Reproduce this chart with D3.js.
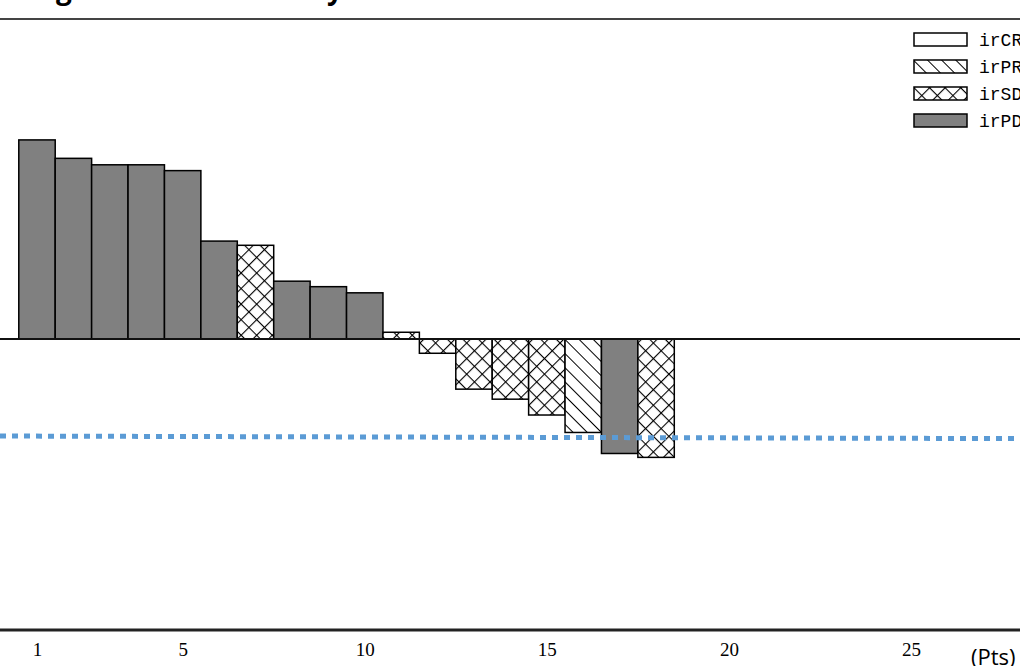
<!DOCTYPE html>
<html>
<head>
<meta charset="utf-8">
<script src="https://cdn.jsdelivr.net/npm/d3@7"></script>
<style>
  body { margin: 0; background: #fff; }
  svg { display: block; }
</style>
</head>
<body>
<svg id="chart"></svg>
<script>
// patient numbers, best change (%) and irRC response
const patients = d3.range(1, 19);
const changes = [61.6, 55.9, 53.9, 53.9, 52.1, 30.3, 29.0, 17.9, 16.2, 14.3,
                 2.1, -4.4, -15.5, -18.6, -23.5, -28.9, -35.4, -36.6];
const responses = ["irPD", "irPD", "irPD", "irPD", "irPD", "irPD", "irSD", "irPD", "irPD", "irPD",
                   "irSD", "irSD", "irSD", "irSD", "irSD", "irPR", "irPD", "irSD"];
const legendKeys = ["irCR", "irPR", "irSD", "irPD"];
const xTicks = [1, 5, 10, 15, 20, 25];
const refLine = [-30, -30.8];   // dotted -30% line, drawn slightly tilted in the original
const titleText = "Figure 3 Tumor size by irRC";

const width = 1020, height = 666;

const svg = d3.select("#chart")
  .attr("width", width)
  .attr("height", height);

const x = d3.scaleLinear().domain([1, 25]).range([37, 911]);
const y = d3.scaleLinear().domain([-90, 99]).range([630, 19]);
const barW = x(1.5) - x(0.5);

// patterns
const defs = svg.append("defs");
const pr = defs.append("pattern")
  .attr("id", "pat-pr")
  .attr("patternUnits", "userSpaceOnUse")
  .attr("width", 10).attr("height", 10)
  .attr("patternTransform", "rotate(45)");
pr.append("rect").attr("width", 10).attr("height", 10).attr("fill", "#fff");
pr.append("line").attr("x1", 0).attr("y1", 0).attr("x2", 10).attr("y2", 0)
  .attr("stroke", "#000").attr("stroke-width", 2);

const sd = defs.append("pattern")
  .attr("id", "pat-sd")
  .attr("patternUnits", "userSpaceOnUse")
  .attr("width", 11).attr("height", 11)
  .attr("patternTransform", "rotate(45)");
sd.append("rect").attr("width", 11).attr("height", 11).attr("fill", "#fff");
sd.append("line").attr("x1", 0).attr("y1", 0).attr("x2", 11).attr("y2", 0)
  .attr("stroke", "#000").attr("stroke-width", 2.2);
sd.append("line").attr("x1", 0).attr("y1", 0).attr("x2", 0).attr("y2", 11)
  .attr("stroke", "#000").attr("stroke-width", 2.2);

const fills = {
  irCR: "#fff",
  irPR: "url(#pat-pr)",
  irSD: "url(#pat-sd)",
  irPD: "#808080"
};

// title (cut off at top of the picture)
svg.append("text")
  .attr("x", 32)
  .attr("y", -1)
  .style("font-family", "'Open Sans', sans-serif")
  .style("font-weight", "bold")
  .style("font-size", "28px")
  .attr("fill", "#000")
  .text(titleText);

// top frame line
svg.append("line")
  .attr("x1", 0).attr("x2", width)
  .attr("y1", 19).attr("y2", 19)
  .attr("stroke", "#444").attr("stroke-width", 2);

// bars
svg.append("g").selectAll("rect")
  .data(patients)
  .join("rect")
  .attr("x", d => x(d) - barW / 2)
  .attr("y", (d, i) => y(Math.max(0, changes[i])))
  .attr("width", barW)
  .attr("height", (d, i) => Math.abs(y(changes[i]) - y(0)))
  .attr("fill", (d, i) => fills[responses[i]])
  .attr("stroke", "#000")
  .attr("stroke-width", 1.5);

// zero line
svg.append("line")
  .attr("x1", 0).attr("x2", width)
  .attr("y1", y(0)).attr("y2", y(0))
  .attr("stroke", "#111").attr("stroke-width", 2);

// -30% reference line: grey dashes under blue squares
svg.append("line")
  .attr("x1", 0).attr("x2", width)
  .attr("y1", y(refLine[0])).attr("y2", y(refLine[1]))
  .attr("stroke", "#8a8a8a").attr("stroke-width", 1.5)
  .attr("stroke-dasharray", "6,6");
svg.append("line")
  .attr("x1", 0).attr("x2", width)
  .attr("y1", y(refLine[0])).attr("y2", y(refLine[1]))
  .attr("stroke", "#5b9bd5").attr("stroke-width", 5)
  .attr("stroke-dasharray", "6,6");

// bottom axis
const xAxis = svg.append("g")
  .attr("transform", `translate(0,${y(-90)})`)
  .call(d3.axisBottom(x).tickValues(xTicks).tickSize(0).tickPadding(13));
xAxis.select(".domain").remove();
xAxis.selectAll("text")
  .style("font-family", "'Liberation Serif', serif")
  .style("font-size", "19px")
  .attr("fill", "#000");
svg.append("line")
  .attr("x1", 0).attr("x2", width)
  .attr("y1", y(-90)).attr("y2", y(-90))
  .attr("stroke", "#222").attr("stroke-width", 3);

svg.append("text")
  .attr("x", 971)
  .attr("y", 665)
  .style("font-family", "'Open Sans', sans-serif")
  .style("font-size", "22px")
  .attr("fill", "#000")
  .text("(Pts)");

// legend
const legend = svg.append("g").attr("transform", "translate(914,33)");
const item = legend.selectAll("g")
  .data(legendKeys)
  .join("g")
  .attr("transform", (d, i) => `translate(0,${i * 27})`);
item.append("rect")
  .attr("width", 53).attr("height", 13)
  .attr("fill", d => fills[d])
  .attr("stroke", "#000").attr("stroke-width", 1.5);
item.append("text")
  .attr("x", 65).attr("y", 13)
  .style("font-family", "'Liberation Mono', monospace")
  .style("font-size", "18px")
  .attr("fill", "#000")
  .text(d => d);
</script>
</body>
</html>
